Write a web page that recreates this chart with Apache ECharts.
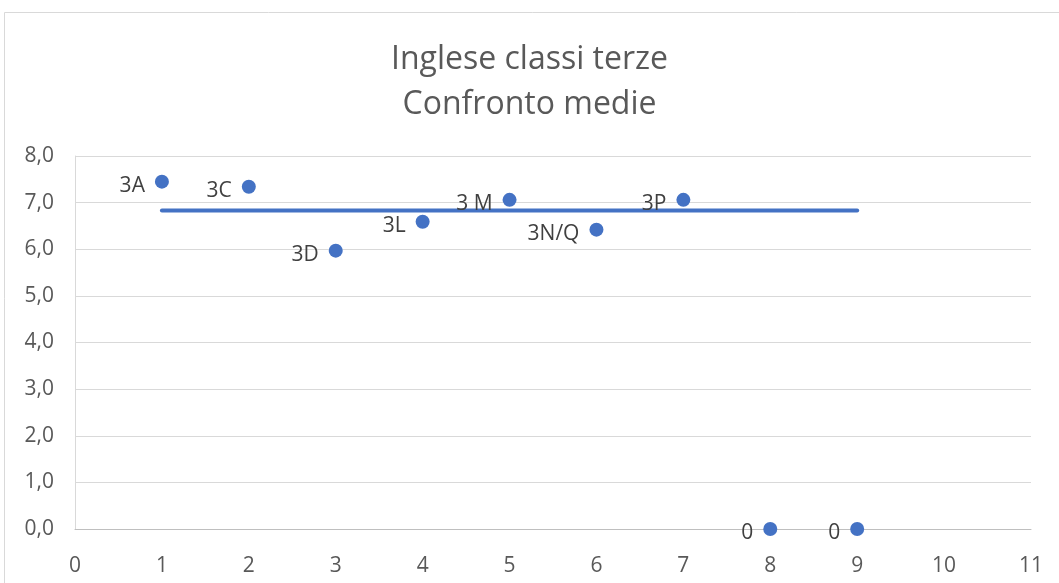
<!DOCTYPE html>
<html>
<head>
<meta charset="utf-8">
<script src="https://cdn.jsdelivr.net/npm/echarts@6/dist/echarts.min.js"></script>
<style>
  html, body { margin: 0; padding: 0; background: #fff; }
  #chart { width: 1059px; height: 583px; }
</style>
</head>
<body>
<div id="chart"></div>
<script>
// Medie di inglese per classe terza
const posizioni = [1, 2, 3, 4, 5, 6, 7, 8, 9];
const classi = ['3A', '3C', '3D', '3L', '3 M', '3N/Q', '3P', '0', '0'];
const medie = [7.45, 7.34, 5.97, 6.59, 7.06, 6.42, 7.06, 0, 0];
// Media complessiva, tracciata come linea orizzontale
const mediaGenerale = 6.83;
const lineaDa = 1;
const lineaA = 9;

const blu = '#4472C4';
const grigioTesto = '#595959';
const font = '"Open Sans", "Liberation Sans", sans-serif';

const punti = posizioni.map((x, i) => ({ value: [x, medie[i]], name: classi[i] }));

const chart = echarts.init(document.getElementById('chart'));
chart.setOption({
  animation: false,
  backgroundColor: '#fff',
  title: {
    text: 'Inglese classi terze\nConfronto medie',
    left: 'center',
    top: 32,
    textStyle: {
      fontFamily: font,
      fontSize: 32,
      fontWeight: 'normal',
      color: grigioTesto,
      lineHeight: 45
    }
  },
  graphic: [{
    type: 'rect',
    shape: { x: 4.5, y: 12.5, width: 1100, height: 600 },
    style: { fill: 'none', stroke: '#d9d9d9', lineWidth: 1 },
    silent: true
  }],
  grid: { left: 75, right: 28, top: 156, bottom: 54 },
  xAxis: {
    type: 'value',
    min: 0, max: 11, interval: 1,
    axisLine: { show: true, lineStyle: { color: '#bfbfbf', width: 1 } },
    axisTick: { show: false },
    splitLine: { show: false },
    axisLabel: { color: grigioTesto, fontFamily: font, fontSize: 21, margin: 27 }
  },
  yAxis: {
    type: 'value',
    min: 0, max: 8, interval: 1,
    axisLine: { show: true, lineStyle: { color: '#d9d9d9', width: 1 } },
    axisTick: { show: false },
    splitLine: { show: true, lineStyle: { color: '#d9d9d9', width: 1 } },
    axisLabel: {
      color: grigioTesto, fontFamily: font, fontSize: 21, margin: 21,
      formatter: v => v.toFixed(1).replace('.', ',')
    }
  },
  series: [
    {
      type: 'line',
      data: [[lineaDa, mediaGenerale], [lineaA, mediaGenerale]],
      showSymbol: false,
      symbol: 'none',
      lineStyle: { color: blu, width: 4, cap: 'round' },
      z: 2
    },
    {
      type: 'scatter',
      data: punti,
      symbol: 'circle',
      symbolSize: 14,
      itemStyle: { color: blu, opacity: 1 },
      label: {
        show: true,
        position: 'left',
        distance: 10,
        offset: [0, 4],
        formatter: p => p.name,
        color: '#404040',
        fontFamily: font,
        fontSize: 21
      },
      z: 3
    }
  ]
});
</script>
</body>
</html>
